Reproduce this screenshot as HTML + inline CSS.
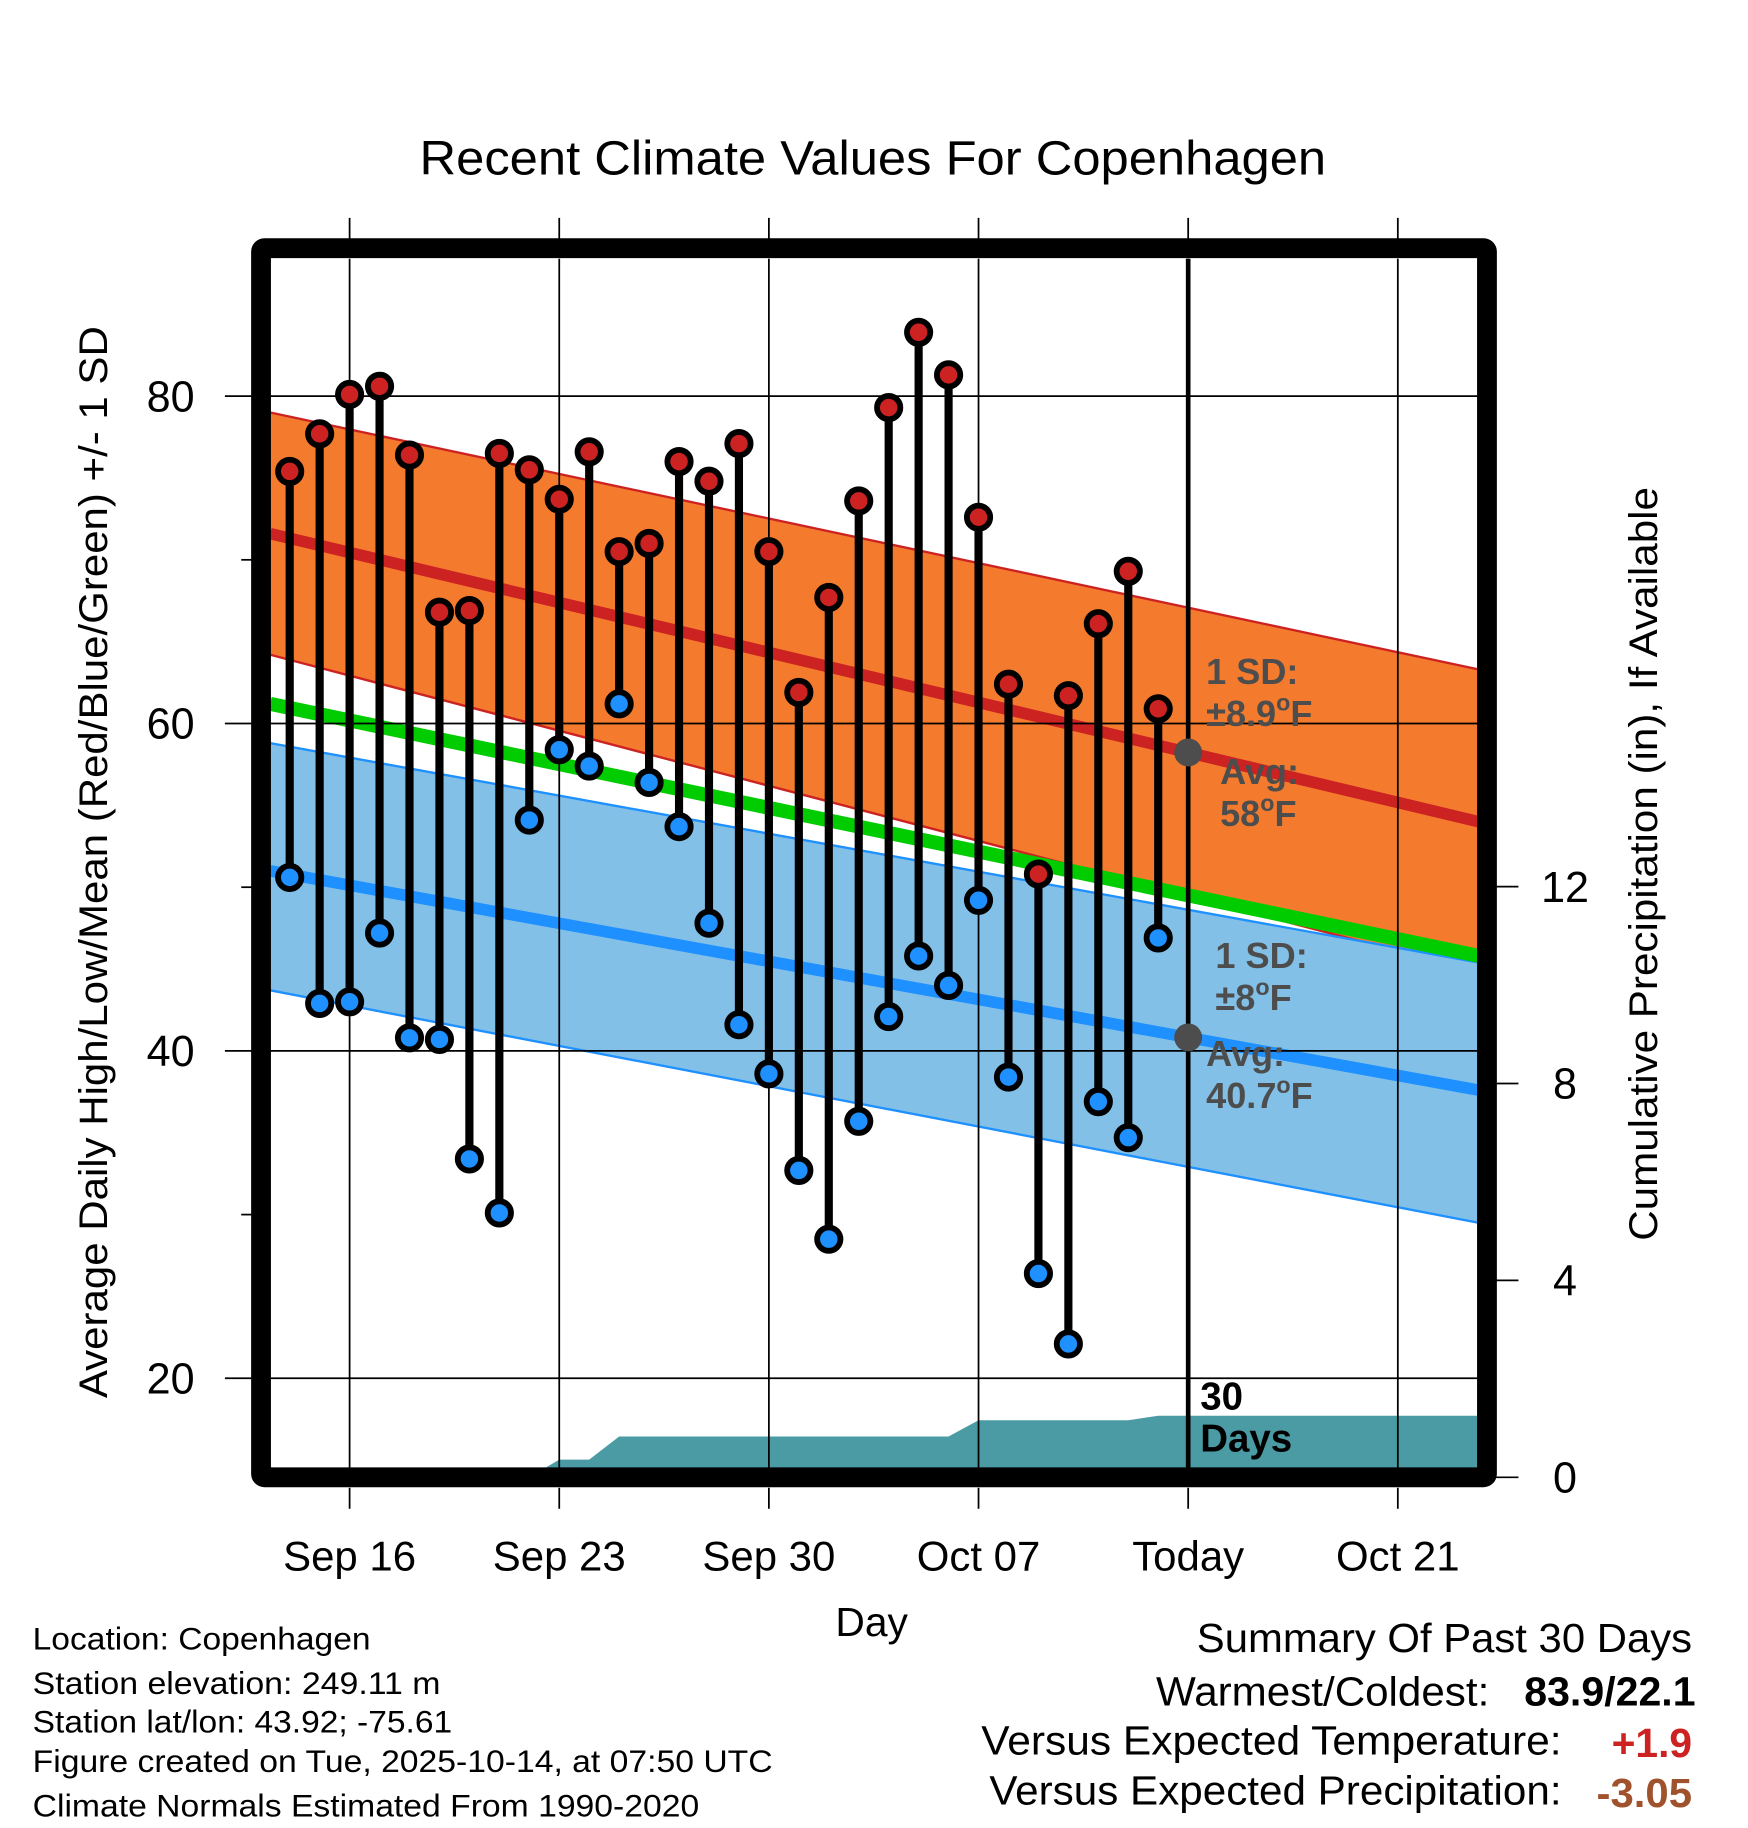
<!DOCTYPE html>
<html><head><meta charset="utf-8"><style>html,body{margin:0;padding:0;background:#fff}svg{display:block}text{font-family:"Liberation Sans",sans-serif}</style></head>
<body>
<svg id="chart" width="1748" height="1828" viewBox="0 0 1500 1569" preserveAspectRatio="none" xmlns="http://www.w3.org/2000/svg">
<g id="g"></g>
</svg>
<script>
// data (day index 0 = Sep 16)
const obsDays=[-2,-1,0,1,2,3,4,5,6,7,8,9,10,11,12,13,14,15,16,17,18,19,20,21,22,23,24,25,26,27];
const highs=[75.4,77.7,80.1,80.6,76.4,66.8,66.9,76.5,75.5,73.7,76.6,70.5,71.0,76.0,74.8,77.1,70.5,61.9,67.7,73.6,79.3,83.9,81.3,72.6,62.4,50.8,61.7,66.1,69.3,60.9];
const lows=[50.6,42.9,43.0,47.2,40.8,40.7,33.4,30.1,54.1,58.4,57.4,61.2,56.4,53.7,47.8,41.6,38.6,32.7,28.5,35.7,42.1,45.8,44.0,49.2,38.4,26.4,22.1,36.9,34.7,46.9];
const precipCum=[0,0,0,0,0,0,0,0,0,0.36,0.36,0.83,0.83,0.83,0.83,0.83,0.83,0.83,0.83,0.83,0.83,0.83,0.83,1.16,1.16,1.16,1.16,1.16,1.16,1.25];
const normDays=[-2.65,37.7];
const normHigh=[71.6,54.0];
const normHighUpper=[79.0,63.3];
const normHighLower=[64.2,44.8];
const normLow=[51.0,37.6];
const normLowUpper=[58.8,45.4];
const normLowLower=[43.7,29.5];
const normMean=[61.2,45.8];
const xTickDays=[0,7,14,21,28,35];
const xTickLabels=["Sep 16","Sep 23","Sep 30","Oct 07","Today","Oct 21"];
const yTicks=[20,40,60,80];
const yMinor=[30,50,70];
const pTicks=[0,4,8,12];

const X0=232,X1=1268,Y0=222,Y1=1260;
const xs=d=>300+d*25.7;
const ys=v=>340+(80-v)*281/20;
const yp=p=>1268-p*169/4;
const NS="http://www.w3.org/2000/svg";
const G=document.getElementById('g');
function el(tag,attrs,parent){const e=document.createElementNS(NS,tag);for(const k in attrs)e.setAttribute(k,attrs[k]);(parent||G).appendChild(e);return e;}
function txt(s,attrs){const t=el('text',attrs);t.textContent=s;return t;}
const nAt=(arr,d)=>arr[0]+(arr[1]-arr[0])*(d-normDays[0])/(normDays[1]-normDays[0]);
const dL=normDays[0],dR=normDays[1];

const defs=el('defs',{});const cp=el('clipPath',{id:'pc'},defs);el('rect',{x:X0,y:Y0,width:X1-X0,height:Y1-Y0},cp);
const P=el('g',{'clip-path':'url(#pc)'});

function band(up,lo,fill,stroke,name){
 const pts=[[xs(dL),ys(nAt(up,dL))],[xs(dR),ys(nAt(up,dR))],[xs(dR),ys(nAt(lo,dR))],[xs(dL),ys(nAt(lo,dL))]];
 const b=el('polygon',{points:pts.map(p=>p.join(',')).join(' '),fill:fill},P);
 
 
 [up,lo].forEach(a=>{el('line',{x1:xs(dL),y1:ys(nAt(a,dL)),x2:xs(dR),y2:ys(nAt(a,dR)),stroke:stroke,'stroke-width':2},P);});
}
band(normHighUpper,normHighLower,'#f47b2d','#cc2222','high-sd-band');
band(normLowUpper,normLowLower,'#82c0e8','#1e90ff','low-sd-band');
function mline(arr,col,w,name){const l=el('line',{x1:xs(dL),y1:ys(nAt(arr,dL)),x2:xs(dR),y2:ys(nAt(arr,dR)),stroke:col,'stroke-width':w},P);
 
 }
mline(normMean,'#00cc00',12,'normal-mean-line');
mline(normHigh,'#cc2222',10,'normal-high-line');
mline(normLow,'#1e90ff',10,'normal-low-line');

let pp=[[xs(obsDays[0]),Y1]];
obsDays.forEach((d,i)=>pp.push([xs(d),yp(precipCum[i])]));
pp.push([X1,yp(precipCum[precipCum.length-1])]);pp.push([X1,Y1]);
const pa=el('polygon',{points:pp.map(p=>p.join(',')).join(' '),fill:'#4a9ba3'},P);



yTicks.forEach(v=>el('line',{x1:X0,x2:X1,y1:ys(v),y2:ys(v),stroke:'#000','stroke-width':1.5},P));
xTickDays.forEach(d=>el('line',{x1:xs(d),x2:xs(d),y1:Y0,y2:Y1,stroke:'#000','stroke-width':1.5},P));
el('line',{x1:xs(28),x2:xs(28),y1:Y0,y2:Y1,stroke:'#000','stroke-width':4},P);

obsDays.forEach((d,i)=>{
 const s=el('line',{x1:xs(d),x2:xs(d),y1:ys(highs[i]),y2:ys(lows[i]),stroke:'#000','stroke-width':7},P);
 
 
});
obsDays.forEach((d,i)=>{
 const h=el('circle',{cx:xs(d),cy:ys(highs[i]),r:10,fill:'#cc2222',stroke:'#000','stroke-width':5},P);
 
 
 const l=el('circle',{cx:xs(d),cy:ys(lows[i]),r:10,fill:'#1e90ff',stroke:'#000','stroke-width':5},P);
 
 
});

const gr='#4d4d4d';
el('circle',{cx:xs(28),cy:ys(nAt(normHigh,28)),r:12,fill:gr},P);
el('circle',{cx:xs(28),cy:ys(nAt(normLow,28)),r:12,fill:gr},P);
function ann(lines,x,y,col,name,sz){const t=el('text',{x:x,y:y,'font-size':sz||31,'font-weight':'bold',fill:col});
 
 
 lines.forEach((s,i)=>{const ts=el('tspan',{x:x,dy:i?36:0},t);ts.innerHTML=s;});}
ann(['1 SD:','±8.9<tspan dy="-13" font-size="20">o</tspan><tspan dy="13">F</tspan>'],1035,587,gr,'high-sd-label');
ann(['Avg:','58<tspan dy="-13" font-size="20">o</tspan><tspan dy="13">F</tspan>'],1047,673,gr,'high-avg-label');
ann(['1 SD:','±8<tspan dy="-13" font-size="20">o</tspan><tspan dy="13">F</tspan>'],1043,831,gr,'low-sd-label');
ann(['Avg:','40.7<tspan dy="-13" font-size="20">o</tspan><tspan dy="13">F</tspan>'],1035,915,gr,'low-avg-label');
ann(['30','Days'],1030,1210,'#000','precip-days-label',33);

const fr=el('rect',{x:224,y:213,width:1052,height:1055,fill:'none',stroke:'#000','stroke-width':17,rx:3});



xTickDays.forEach((d,i)=>{
 el('line',{x1:xs(d),x2:xs(d),y1:187,y2:205,stroke:'#000','stroke-width':1.5});
 el('line',{x1:xs(d),x2:xs(d),y1:1277,y2:1295,stroke:'#000','stroke-width':1.5});
 const t=txt(xTickLabels[i],{x:xs(d),y:1348,'font-size':36,'text-anchor':'middle'});
 
 
});
yTicks.forEach(v=>{el('line',{x1:193,x2:216,y1:ys(v),y2:ys(v),stroke:'#000','stroke-width':1.5});
 const t=txt(String(v),{x:167,y:ys(v)+13,'font-size':37,'text-anchor':'end'});
 
 });
yMinor.forEach(v=>el('line',{x1:207,x2:216,y1:ys(v),y2:ys(v),stroke:'#000','stroke-width':1.5}));
pTicks.forEach(p=>{el('line',{x1:1284,x2:1303,y1:yp(p),y2:yp(p),stroke:'#000','stroke-width':1.5});
 const t=txt(String(p),{x:1343,y:yp(p)+13,'font-size':37,'text-anchor':'middle'});
 
 });
</script>
<svg style="position:absolute;left:0;top:0" width="1748" height="1828" viewBox="0 0 1500 1569" preserveAspectRatio="none" xmlns="http://www.w3.org/2000/svg">
<text x="360" y="150" font-size="41" textLength="778" lengthAdjust="spacingAndGlyphs" font-family="Liberation Sans, sans-serif">Recent Climate Values For Copenhagen</text>
<text transform="translate(92,1200) rotate(-90)" font-size="34" textLength="920" lengthAdjust="spacingAndGlyphs" font-family="Liberation Sans, sans-serif">Average Daily High/Low/Mean (Red/Blue/Green) +/- 1 SD</text>
<text transform="translate(1422,1065) rotate(-90)" font-size="34" textLength="647" lengthAdjust="spacingAndGlyphs" font-family="Liberation Sans, sans-serif">Cumulative Precipitation (in), If Available</text>
<text x="748" y="1404" font-size="35" text-anchor="middle" font-family="Liberation Sans, sans-serif">Day</text>
<g font-size="27" font-family="Liberation Sans, sans-serif" lengthAdjust="spacingAndGlyphs">
<text x="28" y="1416" textLength="290" lengthAdjust="spacingAndGlyphs">Location: Copenhagen</text>
<text x="28" y="1454" textLength="350" lengthAdjust="spacingAndGlyphs">Station elevation: 249.11 m</text>
<text x="28" y="1487" textLength="360" lengthAdjust="spacingAndGlyphs">Station lat/lon: 43.92; -75.61</text>
<text x="28" y="1521" textLength="635" lengthAdjust="spacingAndGlyphs">Figure created on Tue, 2025-10-14, at 07:50 UTC</text>
<text x="28" y="1559" textLength="572" lengthAdjust="spacingAndGlyphs">Climate Normals Estimated From 1990-2020</text>
</g>
<g font-size="35" font-family="Liberation Sans, sans-serif">
<text x="1027" y="1418" textLength="425" lengthAdjust="spacingAndGlyphs">Summary Of Past 30 Days</text>
<text x="992" y="1464" textLength="286" lengthAdjust="spacingAndGlyphs">Warmest/Coldest:</text>
<text x="1308" y="1464" textLength="147" lengthAdjust="spacingAndGlyphs" font-weight="bold">83.9/22.1</text>
<text x="842" y="1506" textLength="498" lengthAdjust="spacingAndGlyphs">Versus Expected Temperature:</text>
<text x="1383" y="1508" textLength="69" lengthAdjust="spacingAndGlyphs" font-weight="bold" fill="#cc2222">+1.9</text>
<text x="849" y="1549" textLength="491" lengthAdjust="spacingAndGlyphs">Versus Expected Precipitation:</text>
<text x="1370" y="1551" textLength="82" lengthAdjust="spacingAndGlyphs" font-weight="bold" fill="#a0522d">-3.05</text>
</g>
</svg>
</body></html>
